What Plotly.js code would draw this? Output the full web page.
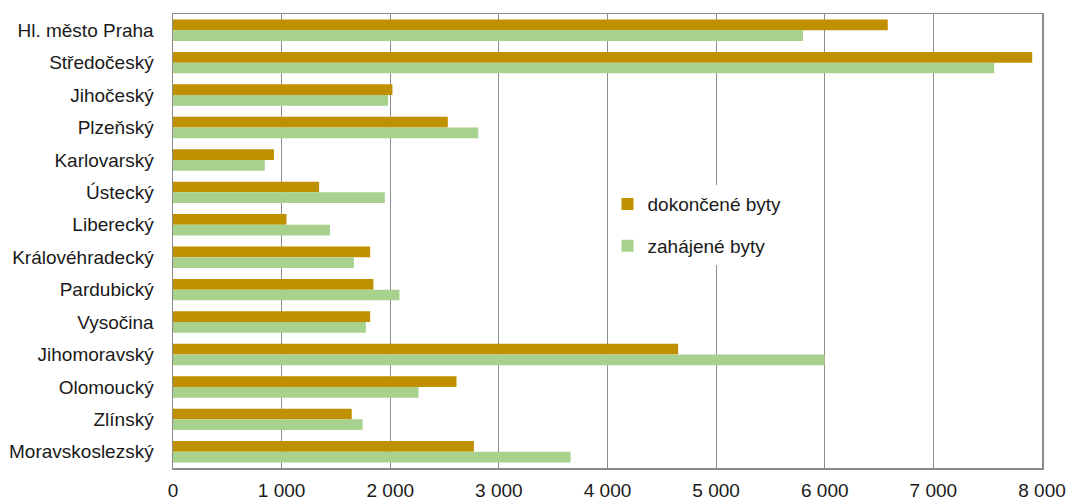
<!DOCTYPE html>
<html>
<head>
<meta charset="utf-8">
<script src="https://cdn.plot.ly/plotly-3.0.1.min.js"></script>
<style>html,body{margin:0;padding:0;background:#fff}#chart{width:1069px;height:500px}</style>
</head>
<body>
<div id="chart"></div>
<script>
const regions = ["Hl. město Praha","Středočeský","Jihočeský","Plzeňský","Karlovarský","Ústecký","Liberecký","Královéhradecký","Pardubický","Vysočina","Jihomoravský","Olomoucký","Zlínský","Moravskoslezský"];
const dokoncene = [6580,7910,2020,2530,930,1345,1045,1815,1845,1815,4650,2610,1645,2770];
const zahajene = [5800,7560,1980,2810,845,1950,1445,1665,2085,1775,6000,2260,1745,3660];
const xTickVals = [0,1000,2000,3000,4000,5000,6000,7000,8000];
const xTickText = ["0","1 000","2 000","3 000","4 000","5 000","6 000","7 000","8 000"];

const traces = [
  {type:'bar', orientation:'h', name:'dokončené byty', legendgroup:'a', y:regions, x:dokoncene,
   marker:{color:'#BF9000'}},
  {type:'bar', orientation:'h', name:'zahájené byty', legendgroup:'b', y:regions, x:zahajene,
   marker:{color:'#A9D18E'}}
];
const layout = {
  width:1069, height:500,
  margin:{l:173, r:27, t:14, b:32},
  paper_bgcolor:'#fff', plot_bgcolor:'#fff',
  barmode:'group', bargap:0.34, bargroupgap:0,
  font:{family:'Liberation Sans, Arial, sans-serif', size:19, color:'#1a1a1a'},
  xaxis:{range:[0,8000], tickvals:xTickVals, ticktext:xTickText,
    showgrid:true, gridcolor:'#8c8c8c', gridwidth:1, zeroline:false,
    showline:true, mirror:true, linecolor:'#8c8c8c', linewidth:1.5,
    ticks:'', ticklabelstandoff:5, fixedrange:true},
  yaxis:{autorange:'reversed', showgrid:false, zeroline:false,
    showline:true, mirror:true, linecolor:'#8c8c8c', linewidth:1.5,
    ticks:'', ticklabelstandoff:14},
  showlegend:true,
  legend:{x:0.5, y:0.535, xanchor:'left', yanchor:'middle', bgcolor:'#fff',
    traceorder:'grouped', font:{size:19, color:'#1a1a1a'}, tracegroupgap:14,
    itemwidth:30}
};
Plotly.newPlot('chart', traces, layout, {displayModeBar:false, staticPlot:true});
</script>
</body>
</html>
